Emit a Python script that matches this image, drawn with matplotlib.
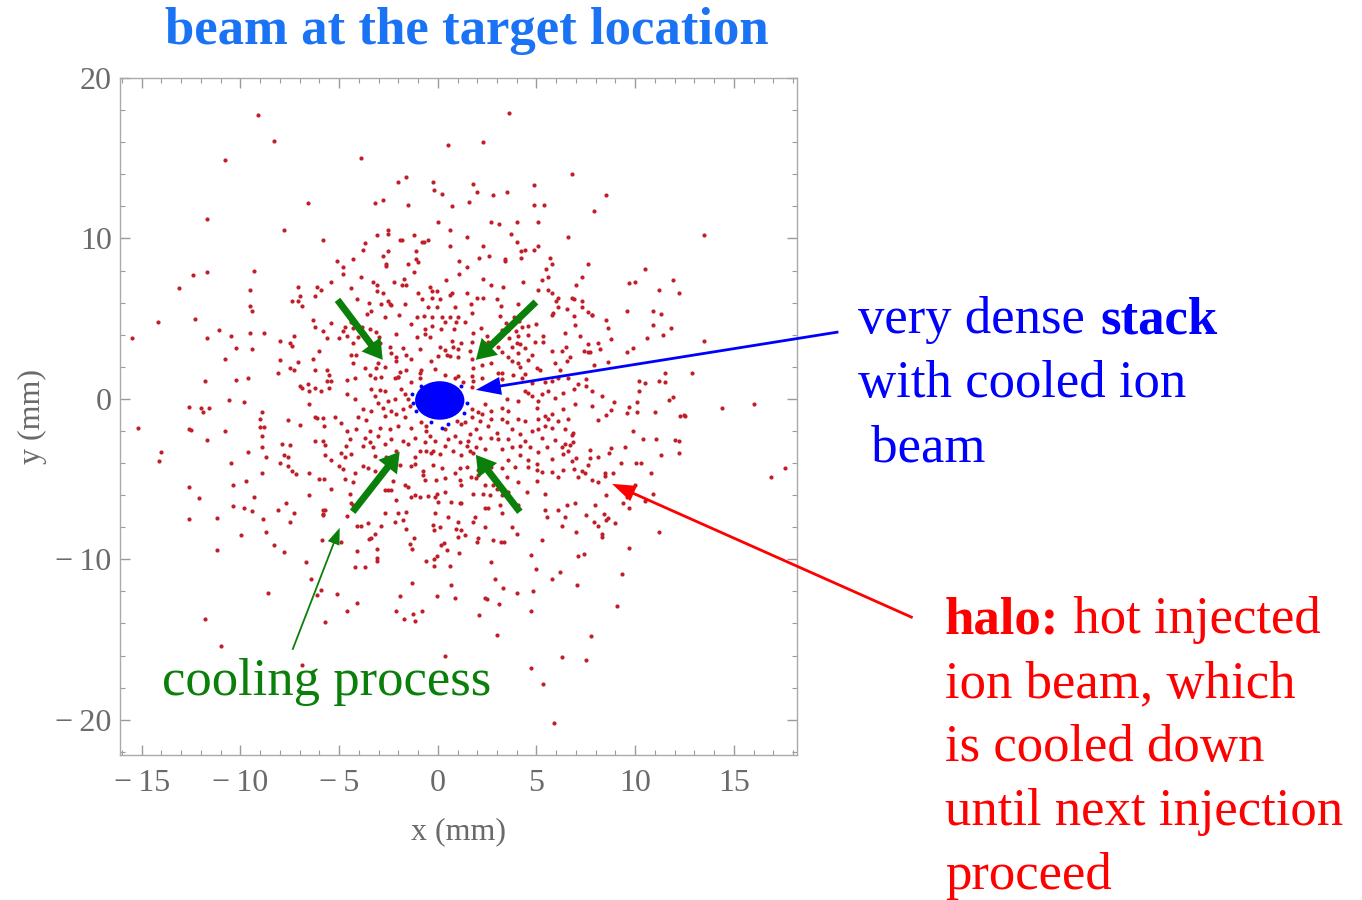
import numpy as np
import matplotlib.pyplot as plt
from matplotlib.patches import Ellipse
from matplotlib.ticker import MultipleLocator, FuncFormatter

plt.rcParams['font.family'] = ['Liberation Serif', 'DejaVu Serif']

# halo particles (hot injected beam), x and y in mm
halo_pts = [
    # outer upper left
    (-9.1, 17.7), (-8.3, 16.1), (-10.8, 14.9), (-6.6, 12.2), (-11.7, 11.2), (-7.8, 10.5),
    (-5.8, 9.9), (-5.1, 8.6), (-4.8, 8.2), (-4.8, 7.8), (-9.3, 8.0), (-12.4, 7.7),
    (-11.7, 7.9), (-13.1, 6.9), (-9.5, 6.8), (-5.4, 7.3), (-7.1, 7.0), (-6.1, 7.0),
    (-5.9, 6.8), (-7.0, 6.4), (-6.2, 6.4), (-7.4, 6.1), (-7.1, 6.1), (-9.5, 5.8), (-6.9, 5.8),
    # upper middle
    (3.6, 17.8), (0.5, 15.8), (2.3, 16.0), (-3.9, 15.0), (6.8, 14.0), (-2.0, 13.5),
    (-1.6, 13.8), (-0.25, 13.5), (-0.2, 13.0), (0.2, 12.8), (1.8, 13.4), (2.0, 12.9),
    (2.8, 12.7), (3.5, 12.9), (4.9, 13.3), (-3.2, 12.2), (-2.8, 12.4), (-1.5, 12.1),
    (0.7, 12.0), (1.6, 12.3), (4.9, 12.1), (5.4, 12.1), (0.0, 11.0), (2.7, 11.0),
    (3.1, 10.9), (4.0, 11.0), (5.1, 11.0), (-2.5, 10.5), (-2.5, 10.3), (-3.1, 10.2),
    (-1.2, 10.2), (0.6, 10.5), (3.7, 10.3), (6.6, 10.1), (1.5, 10.1), (-3.7, 9.7),
    (-3.8, 9.3), (-1.9, 9.9), (-1.8, 9.9), (-0.8, 9.8), (-0.7, 9.8), (-0.5, 9.9),
    (0.6, 9.5), (2.3, 9.5), (4.0, 9.8), (-2.5, 9.2), (-1.1, 9.2), (4.2, 9.2),
    (4.4, 9.3), (4.9, 9.3), (5.1, 9.5), (4.2, 8.8), (-4.3, 8.7), (-2.8, 8.9),
    (-2.6, 8.4), (-2.6, 8.3), (-1.5, 8.4), (-1.1, 8.7), (-1.0, 8.5), (1.1, 8.6),
    (1.5, 8.2), (2.1, 8.8), (2.6, 8.9), (3.4, 8.7), (3.4, 8.6), (5.7, 8.8),
    (5.8, 8.4), (5.5, 8.1), (5.6, 7.6), (-3.9, 7.6), (-1.2, 7.9), (1.1, 7.8),
    (-4.4, 6.9), (-3.3, 7.3), (-3.1, 7.1), (-3.1, 6.7), (-2.2, 7.3), (-1.7, 7.5),
    (-1.8, 7.1), (-1.6, 7.1), (0.4, 7.4), (2.3, 7.5), (2.7, 7.1), (3.3, 7.0),
    (4.3, 7.3), (5.3, 7.4), (5.1, 6.8), (5.6, 6.8), (5.8, 6.6), (6.1, 6.3),
    (6.0, 6.1), (6.8, 6.3), (-4.1, 6.2), (-3.5, 6.0), (-2.8, 6.6), (-2.5, 6.1),
    (-2.9, 5.9), (-2.4, 5.9), (-1.0, 6.6), (-0.4, 7.0), (-0.3, 6.7), (-0.05, 6.7),
    (-0.8, 6.2), (-0.3, 6.3), (0.1, 6.2), (0.6, 6.5), (0.7, 6.6), (1.5, 6.6),
    (1.7, 5.9), (2.0, 6.3), (2.3, 6.3), (3.0, 6.2),
    # upper right
    (8.5, 12.7), (7.9, 11.7), (13.5, 10.2), (7.6, 8.4), (7.3, 7.6), (7.0, 7.1),
    (10.5, 8.1), (9.7, 7.2), (10.0, 7.3), (11.9, 7.4), (11.2, 6.8), (12.2, 6.6),
    (6.9, 6.2), (7.3, 6.1),
    # left
    (-9.4, 5.5), (-14.2, 4.8), (-12.3, 5.0), (-15.5, 3.8), (-11.7, 3.8), (-11.1, 4.3),
    (-10.5, 3.9), (-9.5, 4.1), (-8.8, 4.1), (-10.2, 3.2), (-9.4, 3.1), (-10.8, 2.5),
    (-8.0, 3.6), (-7.5, 3.5), (-7.4, 3.3), (-7.3, 3.9), (-8.0, 2.4), (-7.1, 2.3),
    (-7.5, 1.9), (-7.3, 1.8), (-8.1, 1.6), (-6.3, 4.9), (-6.2, 4.5), (-5.4, 4.7),
    (-5.8, 4.2), (-5.6, 3.8), (-5.0, 3.8), (-4.7, 4.5), (-4.8, 4.2), (-4.6, 3.9),
    (-6.0, 3.0), (-6.3, 2.5), (-6.2, 1.8), (-5.6, 1.8), (-5.5, 1.5), (-5.6, 1.1),
    (-5.4, 1.1), (-4.6, 1.2), (-7.0, 0.8), (-6.9, 0.7), (-6.6, 0.9), (-6.5, 0.5),
    (-6.2, 0.7), (-5.9, 0.5), (-5.5, 0.7), (-4.6, 0.3), (-11.8, 1.1), (-10.2, 1.2),
    (-9.6, 1.3), (-12.6, -0.5), (-12.0, -0.6), (-11.9, -0.85), (-11.6, -0.6), (-10.6, -0.1),
    (-9.8, -0.2), (-6.5, -0.3), (-8.9, -0.85), (-9.0, -1.25), (-9.0, -1.75), (-8.8, -1.75),
    (-8.9, -2.3), (-8.9, -3.0), (-8.7, -3.6), (-8.9, -4.6), (-7.6, -1.3), (-7.0, -1.6),
    (-6.2, -1.1), (-6.1, -1.2), (-5.8, -1.2), (-5.75, -1.7), (-5.2, -1.1), (-4.9, -1.5),
    (-4.6, -2.0), (-6.2, -2.6), (-5.8, -2.6), (-5.7, -2.9), (-5.7, -3.5), (-5.4, -3.8),
    (-4.9, -3.4), (-4.7, -3.6), (-5.0, -4.2), (-4.8, -4.4), (-4.7, -5.0), (-6.0, -5.0),
    (-5.75, -5.0), (-5.4, -5.6), (-7.9, -2.8), (-7.5, -2.9), (-7.8, -3.5), (-7.6, -3.6),
    (-8.0, -4.0), (-7.6, -4.2), (-7.4, -4.5), (-7.2, -4.7), (-6.5, -4.65), (-6.5, -6.0),
    (-15.2, -1.8), (-12.6, -1.9), (-12.5, -1.95), (-10.8, -2.0), (-11.7, -2.55), (-14.0, -3.3),
    (-14.1, -3.9), (-10.5, -4.0), (-9.6, -3.3), (-12.6, -5.5), (-12.1, -6.2), (-10.4, -5.4),
    (-9.7, -5.1), (-9.3, -6.1), (-10.4, -6.7), (-9.8, -6.8), (-9.4, -7.0), (-12.6, -7.5),
    (-11.2, -7.4), (-8.85, -7.5), (-8.1, -6.9), (-7.7, -6.5), (-7.3, -7.1), (-7.5, -7.7),
    (-5.8, -6.9), (-5.7, -6.9), (-5.8, -7.15), (-5.8, -7.25), (-4.6, -7.3),
    # lower left
    (-9.95, -8.5), (-8.7, -8.3), (-8.3, -9.1), (-7.8, -9.55), (-11.2, -9.45), (-5.85, -8.8),
    (-4.9, -8.95), (-6.7, -10.2), (-6.4, -11.2), (-5.9, -11.9), (-6.1, -12.25), (-5.1, -12.15),
    (-4.6, -13.25), (-8.6, -12.1), (-11.8, -13.7), (-5.7, -13.9), (-11.0, -15.4), (-6.9, -16.6),
    # lower middle
    (-4.1, -7.9), (-3.9, -7.9), (-2.9, -7.9), (-3.2, -8.4), (-3.5, -8.75), (-3.4, -8.7),
    (-4.1, -9.5), (-3.1, -9.35), (-3.1, -9.9), (-3.1, -10.1), (-4.2, -10.5), (-3.7, -10.5),
    (-4.1, -12.7), (-1.6, -8.1), (-1.2, -8.7), (-1.4, -9.05), (-1.3, -9.35), (-0.2, -8.2),
    (0.1, -8.0), (-0.6, -10.1), (-0.2, -10.0), (-0.05, -9.8), (-0.2, -10.4), (0.15, -9.1),
    (0.3, -9.0), (0.45, -9.4), (0.6, -10.45), (0.9, -8.1), (1.2, -8.2), (1.0, -8.6),
    (1.4, -8.5), (1.05, -9.6), (0.65, -11.6), (0.85, -12.4), (-0.05, -12.3), (-1.3, -11.45),
    (-1.9, -12.3), (-2.1, -13.2), (-1.7, -13.7), (-1.25, -13.4), (-1.15, -13.85), (-0.8, -13.25),
    (2.05, -8.65), (2.0, -8.9), (2.8, -8.8), (3.2, -8.9), (3.35, -8.9), (4.0, -8.4),
    (2.7, -10.2), (2.9, -11.2), (3.3, -11.8), (4.0, -12.1), (2.4, -12.4), (2.5, -12.5),
    (3.1, -12.8), (2.1, -13.5), (3.0, -14.7), (0.35, -16.0), (4.7, -9.75), (5.3, -8.8),
    (5.0, -10.6), (4.8, -12.0), (4.7, -13.25), (5.8, -11.2), (6.2, -10.8), (6.3, -7.95),
    (6.3, -16.1), (4.7, -16.8), (5.35, -17.8), (5.9, -20.2),
    # lower right
    (7.0, -8.3), (8.1, -7.95), (8.3, -8.4), (8.3, -8.6), (11.2, -8.3), (9.7, -9.3),
    (7.1, -9.8), (7.4, -9.7), (9.35, -10.9), (7.05, -11.6), (9.1, -12.9), (7.75, -14.8),
    (7.5, -16.3),
    # right
    (7.3, 5.75), (7.6, 5.4), (7.8, 5.25), (7.8, 5.2), (8.5, 4.9), (8.6, 4.4),
    (8.8, 3.7), (9.6, 5.5), (10.9, 5.5), (11.3, 5.3), (10.9, 4.6), (11.8, 4.4),
    (11.4, 4.0), (10.6, 3.8), (13.5, 3.6), (7.2, 3.9), (7.6, 3.45), (8.1, 3.5),
    (7.4, 3.0), (7.6, 2.9), (7.7, 2.9), (8.2, 3.1), (6.7, 2.6), (7.9, 2.1),
    (8.6, 2.3), (9.6, 2.9), (9.9, 3.2), (7.5, 1.25), (7.1, 0.95), (7.5, 0.8),
    (6.9, 0.6), (7.8, 0.5), (8.3, 0.2), (8.95, -0.2), (7.8, -0.45), (8.8, -0.7),
    (8.5, -1.0), (8.1, -1.3), (9.7, -0.5), (9.6, -0.9), (10.1, -0.2), (10.1, -0.8),
    (10.2, 1.1), (10.5, 1.0), (10.2, 0.5), (11.5, 1.6), (11.2, 1.1), (11.5, 1.05),
    (11.7, -0.05), (11.9, 0.1), (11.0, -0.8), (12.9, 1.6), (12.25, -1.05), (12.5, -1.0),
    (12.55, -1.05), (14.4, -0.6), (16.0, -0.3), (9.9, -2.0), (10.4, -2.5), (11.05, -2.5),
    (12.0, -2.55), (12.2, -2.6), (12.2, -3.4), (11.3, -3.5), (9.5, -3.0), (8.8, -3.05),
    (8.7, -3.4), (6.85, -2.1), (6.8, -2.25), (6.7, -2.9), (7.7, -3.2), (7.7, -3.7),
    (8.1, -3.6), (7.0, -3.7), (6.8, -3.9), (7.6, -4.15), (6.9, -4.4), (7.3, -4.5),
    (7.45, -4.6), (7.1, -4.9), (7.8, -5.05), (8.1, -5.2), (8.45, -4.6), (8.45, -4.8),
    (8.9, -4.6), (9.3, -4.0), (10.05, -4.0), (10.3, -4.0), (10.8, -4.6), (10.0, -5.35),
    (10.9, -5.9), (10.5, -6.35), (9.6, -6.1), (9.4, -6.5), (9.7, -6.8), (8.5, -6.0),
    (7.95, -6.6), (7.5, -7.25), (8.4, -7.2), (8.6, -7.4), (8.5, -7.55), (7.9, -7.65),
    (9.0, -7.75), (17.6, -4.3), (16.9, -4.9),
    # core region, upper band
    (-2.35, 5.86), (-1.64, 5.92), (-0.49, 5.71), (-0.03, 5.71), (0.86, 5.71), (3.18, 5.79),
    (4.08, 5.92), (6.53, 5.59), (6.11, 5.71), (-3.59, 5.28), (-3.37, 5.48), (-2.66, 5.13),
    (-1.96, 5.23), (-1.05, 5.09), (-0.69, 5.17), (-0.29, 5.09), (0.19, 5.13), (0.36, 4.78),
    (0.64, 5.09), (1.03, 5.13), (0.90, 4.78), (1.40, 4.78), (1.74, 5.34), (3.15, 5.19),
    (3.45, 4.71), (3.86, 5.13), (4.11, 4.86), (4.25, 4.51), (4.55, 4.55), (4.99, 4.65),
    (5.77, 5.23), (5.82, 5.34), (6.90, 5.19), (6.95, 4.61), (-4.38, 4.82), (-4.30, 4.40),
    (-3.84, 4.47), (-3.45, 4.36), (-3.15, 4.15), (-2.99, 3.88), (-2.10, 4.05), (-1.34, 4.67),
    (-1.03, 3.88), (-0.66, 4.34), (-0.66, 4.03), (-0.37, 3.84), (-0.29, 4.55), (0.14, 4.34),
    (0.81, 4.34), (0.73, 3.63), (1.20, 3.47), (1.71, 3.57), (1.76, 4.09), (2.17, 4.40),
    (2.47, 3.93), (2.55, 3.57), (3.23, 4.30), (3.54, 4.30), (3.60, 3.78), (3.94, 4.24),
    (4.08, 3.93), (3.99, 3.47), (4.16, 3.41), (4.59, 3.99), (4.92, 3.57), (5.35, 3.93),
    (5.31, 3.57), (6.45, 4.09), (-4.30, 3.47), (-4.04, 3.84), (-3.20, 3.47), (-2.94, 3.51),
    (-2.44, 3.26), (-1.76, 3.20), (-0.91, 3.12), (0.10, 3.26), (0.36, 3.05), (0.49, 2.74),
    (0.78, 3.26), (1.03, 3.09), (1.62, 3.01), (2.32, 3.47), (3.06, 3.26), (3.23, 2.95),
    (3.74, 3.22), (4.42, 3.20), (4.75, 2.74), (4.08, 2.85), (5.77, 3.01), (6.28, 3.01),
    (6.50, 3.26), (-4.38, 2.74), (-4.16, 2.74), (-4.30, 2.26), (-3.03, 2.22), (-2.69, 2.01),
    (-2.35, 2.85), (-2.10, 2.64), (-2.10, 2.39), (-1.59, 2.74), (-1.34, 2.47), (-0.36, 2.39),
    (0.02, 2.68), (0.61, 2.68), (1.00, 2.60), (1.74, 2.47), (1.76, 1.91), (2.25, 2.12),
    (2.69, 2.26), (3.57, 2.64), (3.74, 2.33), (4.08, 2.26), (4.55, 2.43), (4.16, 2.01),
    (5.01, 1.91), (5.18, 1.81), (5.94, 2.22), (6.19, 1.81), (6.53, 2.33), (-3.71, 1.91),
    (-3.45, 1.50), (-3.11, 1.91), (-1.93, 1.70), (-1.59, 1.81), (-2.01, 1.39), (-0.91, 1.64),
    (-0.83, 1.81), (-0.15, 1.85), (0.36, 1.50), (1.03, 1.43), (1.74, 1.43), (3.06, 1.60),
    (3.23, 1.64), (3.82, 1.50), (4.42, 1.56),
    # core region, middle band
    (-4.21, 1.33), (-3.20, 1.33), (-2.86, 1.37), (-2.18, 1.33), (-2.01, 1.37), (-1.34, 1.06),
    (-0.91, 1.27), (0.86, 1.33), (1.29, 1.02), (1.79, 1.12), (2.22, 1.33), (1.71, 0.71),
    (3.23, 1.23), (4.25, 1.33), (4.75, 0.98), (5.43, 1.02), (6.11, 1.33), (5.77, 1.12),
    (6.58, 1.27), (-3.37, 0.60), (-2.94, 0.56), (-3.20, 0.19), (-2.69, 0.50), (-1.84, 0.64),
    (-1.68, 0.29), (-1.51, 0.02), (-4.21, -0.02), (-3.03, -0.23), (-2.52, -0.12), (-2.18, -0.02),
    (4.42, 0.50), (4.55, 0.39), (4.75, 0.19), (5.09, -0.12), (5.26, 0.29), (4.08, -0.12),
    (3.49, -0.02), (5.60, 0.50), (5.94, 0.08), (6.36, 0.39), (-3.79, -0.64), (-3.37, -0.75),
    (-2.77, -0.54), (-2.35, -0.75), (-1.76, -0.64), (-1.42, -0.44), (1.71, -0.64), (2.05, -0.85),
    (2.25, -0.96), (2.72, -0.75), (3.23, -0.54), (3.57, -0.75), (2.39, -0.33), (5.01, -0.54),
    (5.43, -1.06), (5.77, -0.96), (6.36, -0.64), (6.95, -0.33), (-4.04, -1.16), (-3.62, -1.31),
    (-2.69, -1.06), (-2.10, -0.96), (-1.68, -1.16), (-0.83, -1.47), (-0.58, -1.68), (0.95, -1.37),
    (1.20, -1.58), (1.37, -1.43), (1.71, -1.16), (2.13, -1.37), (2.72, -1.23), (3.23, -1.27),
    (3.49, -1.43), (4.08, -1.23), (4.42, -1.37), (5.09, -1.27), (5.43, -1.68), (5.60, -1.27),
    (6.11, -1.37), (6.58, -1.27), (-4.13, -1.89), (-3.45, -1.99), (-2.94, -1.79), (-2.44, -1.89),
    (-2.01, -1.68), (-1.34, -1.79), (-0.58, -1.99), (-0.41, -2.31), (0.36, -1.89), (0.86, -2.31),
    (1.62, -2.20), (1.96, -1.89), (2.55, -1.68), (2.98, -2.10), (3.74, -1.89), (4.16, -2.20),
    (4.75, -1.99), (5.09, -1.89), (5.77, -1.79), (6.45, -1.89), (-4.47, -2.51), (-3.71, -2.41),
    (-3.45, -2.72), (-3.03, -2.31), (-2.35, -2.51), (-1.76, -2.62), (-1.17, -2.41), (-0.66, -2.72),
    (-0.15, -2.62), (0.52, -2.51), (1.12, -2.72), (1.54, -2.62), (2.13, -2.41), (2.72, -2.41),
    (3.06, -2.51), (3.57, -2.51), (4.42, -2.62), (5.26, -2.41), (5.94, -2.55), (6.45, -2.82),
    (6.87, -2.72), (-4.64, -2.93), (-3.79, -2.93), (-3.28, -3.03), (-2.69, -2.82), (-2.10, -3.24),
    (-1.51, -2.82), (-0.91, -3.24), (-0.58, -3.24), (-0.24, -3.24), (0.36, -2.93), (0.78, -3.24),
    (1.46, -2.93), (1.62, -3.24), (1.96, -3.03), (2.39, -3.14), (3.23, -3.14), (3.74, -3.03),
    (4.16, -2.93), (4.67, -3.03), (5.09, -3.34), (5.52, -3.03), (6.28, -3.03), (6.58, -3.24),
    # core region, lower band
    (-4.38, -3.41), (-3.20, -3.55), (-2.61, -3.61), (-1.17, -3.61), (-0.36, -3.36), (0.10, -3.41),
    (1.20, -3.51), (1.76, -3.36), (3.57, -3.82), (4.16, -3.51), (4.59, -3.82), (5.01, -4.03),
    (5.77, -3.72), (6.36, -3.41), (-3.79, -4.17), (-3.54, -4.34), (-4.21, -4.65), (-3.20, -4.51),
    (-1.93, -4.13), (-1.34, -4.17), (-1.17, -4.03), (-0.74, -4.51), (-0.24, -4.13), (0.19, -4.34),
    (0.86, -4.65), (1.12, -4.34), (1.46, -4.24), (2.05, -4.44), (1.68, -4.86), (2.72, -4.24),
    (3.23, -4.34), (3.91, -4.24), (4.59, -4.24), (5.01, -4.44), (5.26, -4.55), (5.77, -4.55),
    (6.36, -4.44), (-4.30, -5.17), (-2.27, -5.13), (-1.68, -5.38), (-1.51, -5.48), (-0.74, -4.76),
    (-0.66, -5.07), (-0.07, -5.07), (0.36, -4.96), (1.12, -5.07), (1.20, -5.38), (2.05, -4.76),
    (1.96, -4.96), (2.39, -5.38), (2.81, -5.38), (2.98, -5.59), (3.49, -4.86), (4.08, -5.17),
    (5.01, -5.13), (6.11, -4.86), (-4.47, -5.90), (-2.69, -5.69), (-2.52, -5.69), (-2.35, -5.69),
    (-1.34, -6.11), (-1.17, -6.00), (-0.91, -6.11), (-0.49, -6.04), (-0.15, -6.11), (-0.02, -5.90),
    (0.36, -5.80), (0.02, -6.42), (1.79, -5.90), (2.30, -5.90), (2.64, -6.00), (3.23, -6.00),
    (3.57, -5.80), (4.50, -5.80), (5.43, -5.90), (-4.38, -6.52), (-4.30, -6.63), (-2.10, -6.32),
    (0.69, -6.42), (1.12, -6.52), (1.20, -6.52), (2.39, -6.79), (2.55, -6.79), (3.15, -6.63),
    (4.08, -6.63), (6.53, -6.63), (6.95, -6.52), (-2.69, -7.14), (-2.01, -7.14), (-1.59, -7.04),
    (-0.15, -7.14), (0.52, -7.35), (1.88, -7.35), (1.79, -7.66), (3.23, -7.14), (5.43, -6.93),
    (6.11, -6.93), (5.52, -7.35), (6.45, -7.35), (-3.54, -7.71), (-2.18, -7.66), (-1.76, -7.56),
    (-0.24, -7.87), (1.03, -7.66), (2.39, -7.98), (3.74, -7.98),
]
halo_x = [p[0] for p in halo_pts]
halo_y = [p[1] for p in halo_pts]

# dense cooled stack: centre and full width / height in mm
stack_center = (0.1, -0.1)
stack_size = (2.5, 2.4)
# loose stack particles around the edge of the core
stack_edge_x = [0.19, 0.52, 1.46, -1.25, -1.08, -0.32, 1.20, -0.83, 1.35, -1.30]
stack_edge_y = [-1.79, -1.58, -0.23, -0.23, -0.75, -1.47, 0.81, 0.81, -0.90, 0.30]

x_ticks = [-15, -10, -5, 0, 5, 10, 15]
y_ticks = [-20, -10, 0, 10, 20]

halo_color = '#c01e28'
green = '#0a7f0a'
gray_txt = '#6a6a6a'

fig = plt.figure(figsize=(13.62, 9.0), dpi=100)
ax = fig.add_axes([120 / 1362, 145 / 900, 677 / 1362, 677 / 900])

ax.scatter(halo_x, halo_y, s=9, c=halo_color, linewidths=0, zorder=2)
ax.add_patch(Ellipse(stack_center, stack_size[0], stack_size[1], color='#0000ff', lw=0, zorder=3))
ax.scatter(stack_edge_x, stack_edge_y, s=8, c='#0000ff', linewidths=0, zorder=3)

ax.set_xlim(-16.1, 18.2)
ax.set_ylim(-22.2, 20)

ax.xaxis.set_minor_locator(MultipleLocator(1))
ax.yaxis.set_minor_locator(MultipleLocator(2))
ax.set_xticks(x_ticks)
ax.set_yticks(y_ticks)
fmt = FuncFormatter(lambda v, pos: ('\u2212\u2009%d' % abs(v)) if v < 0 else '%d' % v)
ax.xaxis.set_major_formatter(fmt)
ax.yaxis.set_major_formatter(fmt)
ax.tick_params(which='both', direction='in', top=True, right=True, color='#9a9a9a',
               labelsize=23, labelcolor=gray_txt)
ax.tick_params(which='major', length=7, width=1)
ax.tick_params(which='minor', length=3.5, width=0.8)
ax.tick_params(axis='x', pad=10)
ax.tick_params(axis='y', pad=6)
for sp in ax.spines.values():
    sp.set_color('#aaaaaa')
    sp.set_linewidth(1)

ax.set_xlabel('x (mm)', fontsize=23, color=gray_txt, labelpad=14)
ax.set_ylabel('y (mm)', fontsize=23, color=gray_txt, labelpad=6)

# cooling arrows pointing to the stack
cooling_arrows = [((-5.08, 6.17), (-2.79, 2.43)),
                  ((4.97, 6.04), (1.93, 2.43)),
                  ((-4.31, -7.04), (-1.93, -3.30)),
                  ((4.16, -7.04), (1.93, -3.49))]
for start, end in cooling_arrows:
    ax.annotate('', xy=end, xytext=start,
                arrowprops=dict(width=5, headwidth=17, headlength=14, shrink=0,
                                color=green, lw=0), zorder=4)

# label arrows
ax.annotate('', xy=(-4.97, -8.04), xytext=(-7.36, -15.64), annotation_clip=False,
            arrowprops=dict(width=1.3, headwidth=9, headlength=12, shrink=0, color=green, lw=0))
ax.annotate('', xy=(1.93, 0.56), xytext=(20.3, 4.17), annotation_clip=False,
            arrowprops=dict(width=2, headwidth=13, headlength=18, shrink=0, color='#0000ff', lw=0))
ax.annotate('', xy=(8.83, -5.30), xytext=(24.06, -13.64), annotation_clip=False,
            arrowprops=dict(width=2, headwidth=12, headlength=17, shrink=0, color='#ff0000', lw=0))

W, H = 1362.0, 900.0
fig.text(467 / W, 1 - 31 / H, 'beam at the target location', fontsize=38, fontweight='bold',
         color='#1a73f5', ha='center', va='center')

fig.text(162 / W, 1 - 695 / H, 'cooling process', fontsize=38, color=green, va='baseline')

fig.text(858 / W, 1 - 333 / H, 'very dense ', fontsize=38, color='#0000ff', va='baseline')
fig.text(1100 / W, 1 - 333 / H, 'stack', fontsize=38, fontweight='bold', color='#0000ff', va='baseline')
fig.text(858 / W, 1 - 397 / H, 'with cooled ion', fontsize=38, color='#0000ff', va='baseline')
fig.text(858 / W, 1 - 461 / H, ' beam', fontsize=38, color='#0000ff', va='baseline')

fig.text(945 / W, 1 - 633 / H, 'halo:', fontsize=38, fontweight='bold', color='#ff0000', va='baseline')
fig.text(1060 / W, 1 - 633 / H, ' hot injected', fontsize=38, color='#ff0000', va='baseline')
red_lines = ['ion beam, which', 'is cooled down', 'until next injection', 'proceed']
for i, line in enumerate(red_lines):
    fig.text(945 / W, 1 - (697 + 64 * i) / H, line, fontsize=38, color='#ff0000', va='baseline')

fig.savefig('out.png', dpi=100)
plt.close(fig)
